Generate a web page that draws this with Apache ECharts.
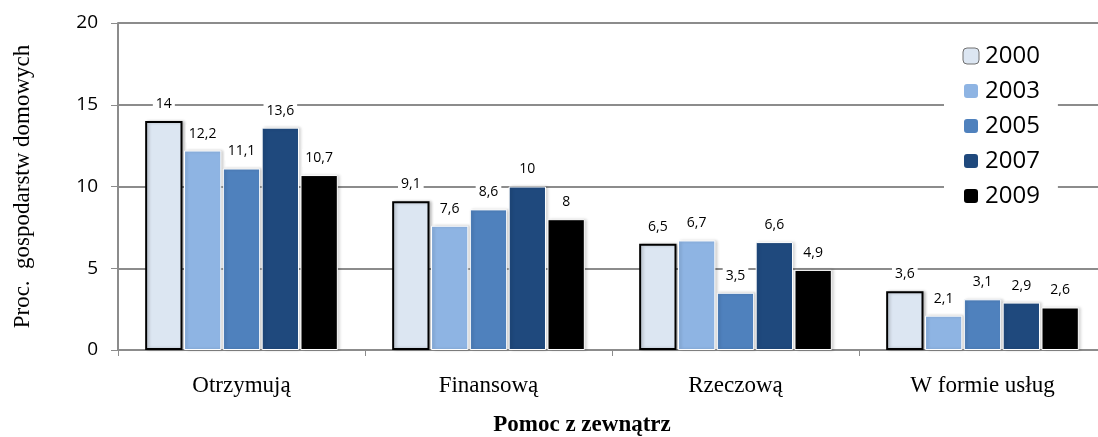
<!DOCTYPE html>
<html>
<head>
<meta charset="utf-8">
<script src="https://cdn.jsdelivr.net/npm/echarts@6/dist/echarts.min.js"></script>
<style>
html,body{margin:0;padding:0;background:#fff;}
#chart{width:1098px;height:437px;}
</style>
</head>
<body>
<div id="chart"></div>
<script>
const categories = ['Otrzymują', 'Finansową', 'Rzeczową', 'W formie usług'];
const years = ['2000', '2003', '2005', '2007', '2009'];
const v2000 = [14, 9.1, 6.5, 3.6];
const v2003 = [12.2, 7.6, 6.7, 2.1];
const v2005 = [11.1, 8.6, 3.5, 3.1];
const v2007 = [13.6, 10, 6.6, 2.9];
const v2009 = [10.7, 8, 4.9, 2.6];
const yTicks = [0, 5, 10, 15, 20];

const seriesValues = [v2000, v2003, v2005, v2007, v2009];
const colors = ['#dce6f2', '#8eb4e3', '#4f81bd', '#1f497d', '#000000'];

const chart = echarts.init(document.getElementById('chart'));
const series = years.map((y, i) => ({
  name: y,
  type: 'bar',
  data: seriesValues[i],
  barGap: '4%',
  barCategoryGap: '22%',
  itemStyle: i === 0
    ? { color: colors[i], borderColor: '#000', borderWidth: 2, shadowColor: 'rgba(0,0,0,0.2)', shadowBlur: 3, shadowOffsetX: 2 }
    : { color: colors[i], borderColor: '#fff', borderWidth: 1, shadowColor: 'rgba(0,0,0,0.2)', shadowBlur: 3, shadowOffsetX: 2 },
  label: {
    show: true,
    position: 'top',
    distance: 8,
    formatter: p => String(p.value).replace('.', ','),
    fontFamily: 'Open Sans',
    fontSize: 14,
    color: '#000',
    backgroundColor: '#fff',
    padding: [2, 3]
  },
  emphasis: { disabled: true }
}));

chart.setOption({
  animation: false,
  backgroundColor: '#fff',
  grid: { left: 118, right: -8, top: 23, bottom: 87, containLabel: false, outerBoundsMode: 'none' },
  legend: {
    orient: 'vertical',
    left: 944,
    top: 36,
    data: years.map((y, i) => i === 0
      ? { name: y, itemStyle: { color: colors[0], borderColor: '#707070', borderWidth: 1, shadowBlur: 0 } }
      : { name: y, itemStyle: { shadowBlur: 0 } }),
    itemWidth: 16,
    itemHeight: 16,
    itemGap: 11,
    backgroundColor: '#fff',
    padding: [8, 18, 8, 18],
    textStyle: { fontFamily: 'Open Sans', fontSize: 24, color: '#000', padding: [0, 0, 0, 1] }
  },
  xAxis: {
    type: 'category',
    data: categories,
    name: 'Pomoc z zewnątrz',
    nameLocation: 'middle',
    nameGap: 64,
    nameTextStyle: { fontFamily: 'Liberation Serif', fontSize: 23, fontWeight: 'bold', color: '#000', padding: [0, 60, 0, 0] },
    axisLine: { lineStyle: { color: '#8c8c8c', width: 2 } },
    axisTick: { show: true, length: 6, lineStyle: { color: '#8c8c8c' } },
    axisLabel: { fontFamily: 'Liberation Serif', fontSize: 23, color: '#000', margin: 24 }
  },
  yAxis: {
    type: 'value',
    min: yTicks[0],
    max: yTicks[yTicks.length - 1],
    interval: 5,
    name: 'Proc.  gospodarstw domowych',
    nameLocation: 'middle',
    nameGap: 84,
    nameTextStyle: { fontFamily: 'Liberation Serif', fontSize: 23, color: '#000' },
    axisLine: { show: true, lineStyle: { color: '#8c8c8c', width: 2 } },
    axisTick: { show: true, length: 7, lineStyle: { color: '#8c8c8c' } },
    axisLabel: { fontFamily: 'Open Sans', fontSize: 19, color: '#000', margin: 20 },
    splitLine: { show: true, lineStyle: { color: '#8c8c8c', width: 2 } }
  },
  series: series
});
</script>
</body>
</html>
